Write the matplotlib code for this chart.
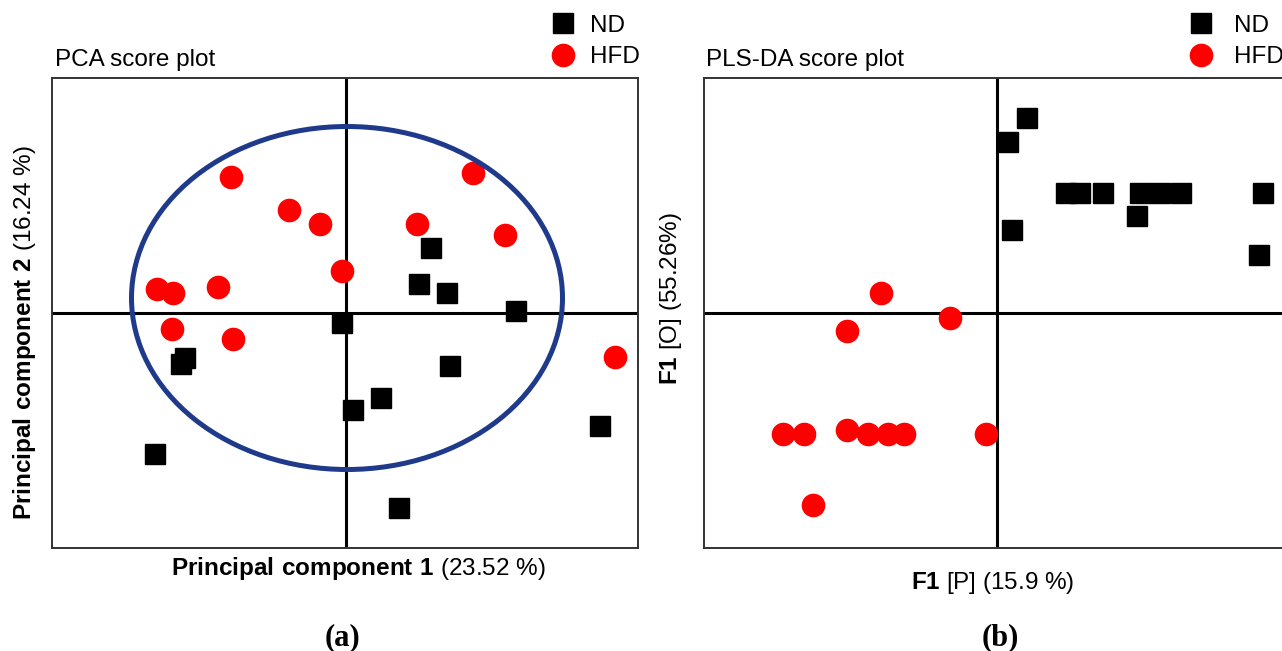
import matplotlib.pyplot as plt
from matplotlib.lines import Line2D
from matplotlib.patches import Ellipse

plt.rcParams['font.family'] = ['Liberation Sans', 'DejaVu Sans']
plt.rcParams['mathtext.fontset'] = 'custom'
plt.rcParams['mathtext.rm'] = 'Liberation Sans'
plt.rcParams['mathtext.bf'] = 'Liberation Sans:bold'

# PCA scores (PC1, PC2)
pca_nd_x = [1.70, 1.46, 2.02, 3.40, -3.22, -3.30, -3.82, -0.08, 2.08, 0.70, 0.14, 1.06, 5.08]
pca_nd_y = [1.30, 0.58, 0.40, 0.04, -0.90, -1.02, -2.82, -0.20, -1.06, -1.70, -1.94, -3.90, -2.26]
pca_hfd_x = [-2.30, -1.14, -0.52, -0.08, -3.78, -3.46, -2.56, 2.54, 1.42, 3.18, -3.48, -2.26, 5.38]
pca_hfd_y = [2.72, 2.06, 1.78, 0.84, 0.48, 0.40, 0.52, 2.80, 1.78, 1.56, -0.32, -0.52, -0.88]

# Hotelling T2 ellipse (centre, width, height)
t2_center = (0.02, 0.30)
t2_width = 8.62
t2_height = 6.86

# PLS-DA scores (predictive, orthogonal)
pls_nd_x = [0.60, 0.22, 1.38, 1.66, 2.12, 2.86, 3.26, 3.68, 5.32, 2.80, 0.30, 5.24]
pls_nd_y = [3.90, 3.42, 2.40, 2.40, 2.40, 2.40, 2.40, 2.40, 2.40, 1.94, 1.66, 1.16]
pls_hfd_x = [-2.32, -0.94, -3.00, -4.28, -3.86, -3.00, -2.58, -2.18, -1.86, -0.22, -3.68]
pls_hfd_y = [0.40, -0.10, -0.36, -2.42, -2.42, -2.34, -2.42, -2.42, -2.42, -2.42, -3.84]

W, H = 1282, 651
fig = plt.figure(figsize=(W / 100, H / 100), dpi=100)

ax1 = fig.add_axes([52 / W, 103 / H, 586 / W, 470 / H])
ax2 = fig.add_axes([704 / W, 103 / H, 596 / W, 470 / H])

fs = 17.5
sq = dict(marker='s', color='black', markersize=14.4, linestyle='none', zorder=3)
ci = dict(marker='o', color='#ff0000', markersize=16, linestyle='none', zorder=3)

for ax in (ax1, ax2):
    ax.axhline(0, color='black', lw=2.2, zorder=1)
    ax.axvline(0, color='black', lw=2.2, zorder=1)
    ax.set_xticks([])
    ax.set_yticks([])
    for s in ax.spines.values():
        s.set_color('#333333')
        s.set_linewidth(1.4)

ax1.plot(pca_nd_x, pca_nd_y, **sq)
ax1.plot(pca_hfd_x, pca_hfd_y, **ci)
ax1.add_patch(Ellipse(t2_center, t2_width, t2_height, fill=False,
                      edgecolor='#1f3a8a', lw=3.6, zorder=4))
ax1.set_xlim(-5.88, 5.84)
ax1.set_ylim(-4.7, 4.7)

ax2.plot(pls_nd_x, pls_nd_y, **sq)
ax2.plot(pls_hfd_x, pls_hfd_y, **ci)
ax2.set_xlim(-5.86, 6.06)
ax2.set_ylim(-4.7, 4.7)

# titles
fig.text(55 / W, 1 - 60 / H, 'PCA score plot', fontsize=fs, va='center', ha='left')
fig.text(706 / W, 1 - 60 / H, 'PLS-DA score plot', fontsize=fs, va='center', ha='left')

# axis labels
fig.text(358 / W, 1 - 575 / H, r'$\mathbf{Principal\ component\ 1}$ (23.52 %)',
         fontsize=fs, ha='center', va='baseline')
fig.text(25 / W, 1 - 333 / H, r'$\mathbf{Principal\ component\ 2}$ (16.24 %)',
         fontsize=fs, ha='center', va='center', rotation=90)
fig.text(993 / W, 1 - 589 / H, r'$\mathbf{F1}$ [P] (15.9 %)',
         fontsize=fs, ha='center', va='baseline')
fig.text(671 / W, 1 - 299 / H, r'$\mathbf{F1}$ [O] (55.26%)',
         fontsize=fs, ha='center', va='center', rotation=90)

# panel letters
fig.text(343 / W, 1 - 645 / H, '(a)', fontsize=22, fontweight='bold',
         family='Liberation Serif', ha='center', va='baseline')
fig.text(1000 / W, 1 - 645 / H, '(b)', fontsize=22, fontweight='bold',
         family='Liberation Serif', ha='center', va='baseline')

# legends
handles = [Line2D([], [], **sq), Line2D([], [], **ci)]
labels = ['ND', 'HFD']
fig.legend(handles, labels, loc='center left', bbox_to_anchor=(552 / W, 1 - 41.5 / H),
           frameon=False, fontsize=fs, borderpad=0, borderaxespad=0,
           handlelength=0.9, handletextpad=0.66, labelspacing=0.37)
fig.legend(handles, labels, loc='center left', bbox_to_anchor=(1190 / W, 1 - 41.5 / H),
           frameon=False, fontsize=fs, borderpad=0, borderaxespad=0,
           handlelength=0.9, handletextpad=0.91, labelspacing=0.37)

fig.savefig('out.png', dpi=100)
